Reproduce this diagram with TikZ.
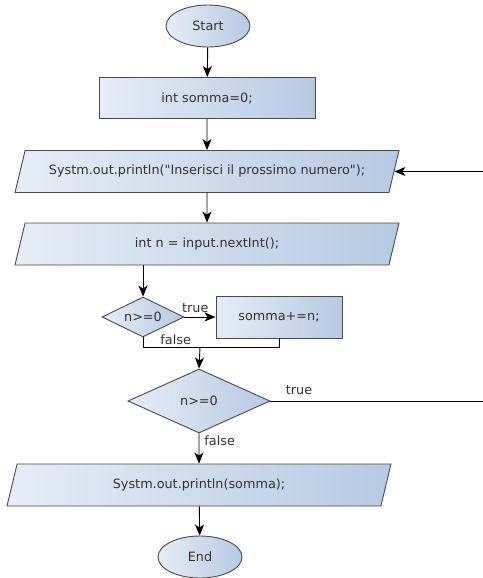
\documentclass[tikz,border=0pt]{standalone}
\usepackage{fontspec}
\setmainfont{DejaVu Sans}
\usepackage{tikz}
\usetikzlibrary{shapes.geometric,arrows.meta,positioning}
\definecolor{chiaro}{HTML}{E6EDF7}
\definecolor{scuro}{HTML}{B6CAE4}
\definecolor{bordo}{HTML}{4A4A4A}
\definecolor{testo}{HTML}{333333}
\tikzstyle{blocco} = [draw=bordo, line width=0.9pt, left color=chiaro, right color=scuro, text=testo, inner sep=0pt, font=\fontsize{12.8}{15}\selectfont]
\tikzstyle{terminale} = [blocco, ellipse, minimum width=84pt, minimum height=42pt]
\tikzstyle{istruzione} = [blocco, rectangle, minimum height=41pt]
\tikzstyle{ingresso} = [blocco, trapezium, trapezium left angle=76.5, trapezium right angle=103.5, trapezium stretches body, text height=9pt, text depth=3pt, inner ysep=15pt, minimum width=384pt]
\tikzstyle{decisione} = [blocco, diamond, aspect=2]
\tikzstyle{freccia} = [draw=black, line width=0.9pt, -{Stealth[length=11pt,width=9pt,inset=3pt]}]
\tikzstyle{linea} = [draw=black, line width=0.9pt]
\tikzstyle{etichetta} = [text=testo, inner sep=1pt, font=\fontsize{12.8}{15}\selectfont]

\begin{document}
\begin{tikzpicture}[x=1pt,y=-1pt]
\useasboundingbox (0,0) rectangle (482,578);
\node [terminale] (start) at (208,26) {Start};
\node [istruzione, minimum width=216pt] (somma) at (207,98) {int somma=0;};
\node [ingresso] (chiedi) at (207,171.5) {Systm.out.println(\textquotedbl Inserisci il prossimo numero\textquotedbl);};
\node [ingresso] (leggi) at (207,244) {int n = input.nextInt();};
\node [decisione, minimum width=82pt, minimum height=40pt] (test) at (143,317) {n>=0};
\node [istruzione, minimum width=126pt, minimum height=42pt] (somma2) at (279,317) {somma+=n;};
\node [decisione, minimum width=142pt, minimum height=64pt] (ciclo) at (199,401) {n>=0};
\node [ingresso] (stampa) at (199,485) {Systm.out.println(somma);};
\node [terminale] (end) at (200,557) {End};
\coordinate (unione) at (200,347);
\coordinate (ritorno) at (490,0);

\draw [freccia] (start) -- (somma);
\draw [freccia] (somma) -- (chiedi);
\draw [freccia] (chiedi) -- (leggi);
\draw [freccia] (leggi.south -| test.north) -- (test.north);
\draw [freccia] (test.east) -- node[etichetta, above=3pt, pos=0.35] {true} (somma2.west);
\draw [linea] (test.south) |- node[etichetta, pos=0.12, right=16pt] {false} (unione);
\draw [linea] (somma2.south) |- (unione);
\draw [freccia] (unione) -- (ciclo.north);
\draw [freccia] (ciclo.east) -- node[etichetta, pos=0.13, above=5pt] {true} (ciclo.east -| ritorno) |- (chiedi.east);
\draw [freccia] (ciclo.south) -- node[etichetta, pos=0.25, right=4pt] {false} (stampa.north);
\draw [freccia] (stampa) -- (end);
\end{tikzpicture}
\end{document}
